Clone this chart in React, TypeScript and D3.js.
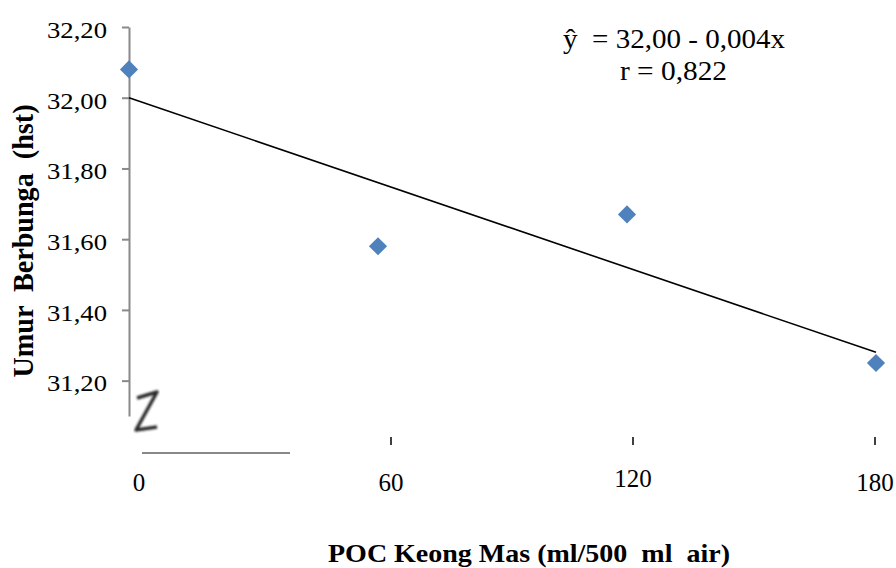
import { useEffect, useRef } from 'react';
import * as d3 from 'd3';

const doses = [0, 60, 120, 180];
const umur = [32.08, 31.58, 31.67, 31.25];
const yTicks = [31.2, 31.4, 31.6, 31.8, 32.0, 32.2];
const xTicks = [0, 60, 120, 180];
const intercept = 32.0;
const slope = -0.004;

export default function App() {
  const ref = useRef<SVGSVGElement | null>(null);

  useEffect(() => {
    const el = ref.current;
    if (!el) return;
    const svg = d3.select(el);
    svg.selectAll('*').remove();

    const font = '"Liberation Serif", "Times New Roman", serif';
    // points / trend line
    const x = d3.scaleLinear().domain([0, 180]).range([129, 876]);
    // the tick row of the original sits on a slightly different scale
    const xAxis = d3.scaleLinear().domain([0, 180]).range([149, 875]);
    const y = d3.scaleLinear().domain([31.1, 32.2]).range([416, 27]);
    const fmt = (v: number) => d3.format('.2f')(v).replace('.', ',');

    const g = svg.append('g');

    // y axis
    const ya = g.append('g')
      .attr('transform', `translate(${x(0)},0)`)
      .call(d3.axisLeft(y).tickValues(yTicks).tickFormat(d => fmt(+d)).tickSize(7).tickSizeOuter(0).tickPadding(15));
    ya.attr('font-family', font);
    ya.select('.domain').attr('stroke', '#898989').attr('stroke-width', 2);
    ya.selectAll('.tick line').attr('stroke', '#898989').attr('stroke-width', 2);
    ya.selectAll('.tick text')
      .attr('font-family', font).attr('font-size', 23).attr('fill', '#000')
      .attr('dy', '0.45em')
      .attr('textLength', 60).attr('lengthAdjust', 'spacingAndGlyphs');

    // x axis fragment + break mark
    g.append('line')
      .attr('x1', 142).attr('x2', 290).attr('y1', 453).attr('y2', 453)
      .attr('stroke', '#898989').attr('stroke-width', 2);
    const defs = svg.append('defs');
    defs.append('filter').attr('id', 'soft').append('feGaussianBlur').attr('stdDeviation', 0.8);
    g.append('path')
      .attr('d', 'M137,398 L157,392 L136,430 L157,427')
      .attr('fill', 'none').attr('stroke', '#2b2b2b').attr('stroke-width', 3.5)
      .attr('stroke-linejoin', 'round').attr('filter', 'url(#soft)');

    // x ticks
    g.selectAll('.xt').data(xTicks.filter(d => d > 0)).enter().append('line')
      .attr('x1', d => xAxis(d)).attr('x2', d => xAxis(d))
      .attr('y1', 437).attr('y2', 445)
      .attr('stroke', '#000').attr('stroke-width', 1.5);
    g.selectAll('.xl').data(xTicks).enter().append('text')
      .attr('x', d => (d === 0 ? xAxis(d) - 10 : xAxis(d)))
      .attr('y', d => (d === 120 ? 487 : 491))
      .attr('text-anchor', 'middle')
      .attr('font-family', font).attr('font-size', 25)
      .text(d => String(d));

    // regression line
    const line = d3.line<number>().x(d => x(d)).y(d => y(intercept + slope * d));
    g.append('path')
      .datum([0, 180])
      .attr('d', line)
      .attr('fill', 'none').attr('stroke', '#000').attr('stroke-width', 1.6);

    // points
    const sym = d3.symbol().type(d3.symbolDiamond2).size(210);
    g.selectAll('.pt').data(doses).enter().append('path')
      .attr('d', sym)
      .attr('transform', (d, i) => `translate(${x(d)},${y(umur[i])})`)
      .attr('fill', '#4F81BD');

    // equation
    g.append('text').attr('x', 563).attr('y', 48)
      .attr('font-family', font).attr('font-size', 27)
      .attr('textLength', 222).attr('lengthAdjust', 'spacingAndGlyphs')
      .style('white-space', 'pre')
      .text('ŷ  = 32,00 - 0,004x');
    g.append('text').attr('x', 620).attr('y', 80)
      .attr('font-family', font).attr('font-size', 27)
      .attr('textLength', 107).attr('lengthAdjust', 'spacingAndGlyphs')
      .text('r = 0,822');

    // axis titles
    g.append('text')
      .attr('transform', 'translate(33,241) scale(1.12,1) rotate(-90)')
      .attr('text-anchor', 'middle')
      .attr('font-family', font).attr('font-size', 26).attr('font-weight', 'bold')
      .attr('textLength', 273).attr('lengthAdjust', 'spacingAndGlyphs')
      .style('white-space', 'pre')
      .text('Umur  Berbunga  (hst)');
    g.append('text')
      .attr('x', 328).attr('y', 562)
      .attr('font-family', font).attr('font-size', 26).attr('font-weight', 'bold')
      .attr('textLength', 402).attr('lengthAdjust', 'spacingAndGlyphs')
      .style('white-space', 'pre')
      .text('POC Keong Mas (ml/500  ml  air)');
  }, []);

  return (
    <svg
      ref={ref}
      width={896}
      height={568}
      style={{ position: 'absolute', left: 0, top: 0, background: '#fff' }}
    />
  );
}
